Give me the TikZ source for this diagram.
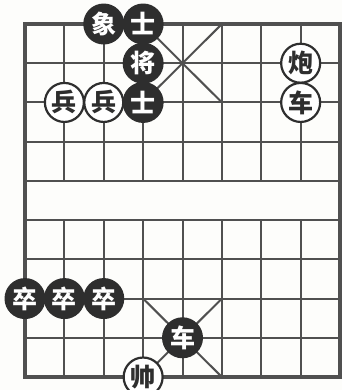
\documentclass[tikz,border=0pt]{standalone}
\usepackage{fontspec}
\newfontfamily\cjk{Noto Sans CJK SC}
\usetikzlibrary{positioning}
\definecolor{ink}{HTML}{505050}
\definecolor{piece}{HTML}{2E2E2E}
\definecolor{paper}{HTML}{FDFDFB}

\begin{document}
\begin{tikzpicture}[x=39.375pt, y=39.22pt,
  gridline/.style={ink, line width=2pt},
  blackpiece/.style={circle, fill=piece, text=white, minimum size=41pt, inner sep=0pt, font=\cjk\bfseries\fontsize{25}{25}\selectfont},
  redpiece/.style={circle, draw=piece, line width=2.2pt, fill=white, text=piece, minimum size=39pt, inner sep=0pt, font=\cjk\bfseries\fontsize{25}{25}\selectfont}]
  % page and board
  \fill[paper] (-0.635,-0.331) rectangle (8.051,9.612);
  \useasboundingbox (-0.635,-0.331) rectangle (8.051,9.612);
  \foreach \r in {1,...,8} \draw[gridline] (0,\r) -- (8,\r);
  \foreach \c in {1,...,7} {
    \draw[gridline] (\c,0) -- (\c,4);
    \draw[gridline] (\c,5) -- (\c,9);
  }
  \draw[gridline] (3,0) -- (5,2) (3,2) -- (5,0) (3,7) -- (5,9) (3,9) -- (5,7);
  \draw[ink, line width=3.4pt] (0,0) rectangle (8,9);
  % black side
  \node[blackpiece] (bxiang) at (2,9) {象};
  \node[blackpiece] (bshitop) at (3,9) {士};
  \node[blackpiece] (bjiang) at (3,8) {将};
  \node[blackpiece] (bshimid) at (3,7) {士};
  \foreach \c in {0,1,2} \node[blackpiece] (bzu\c) at (\c,2) {卒};
  \node[blackpiece] (bche) at (4,1) {车};
  % red side
  \node[redpiece] (rbinga) at (1,7) {兵};
  \node[redpiece] (rbingb) at (2,7) {兵};
  \node[redpiece] (rpao) at (7,8) {炮};
  \node[redpiece] (rche) at (7,7) {车};
  \node[redpiece] (rshuai) at (3,0) {帅};
\end{tikzpicture}
\end{document}
